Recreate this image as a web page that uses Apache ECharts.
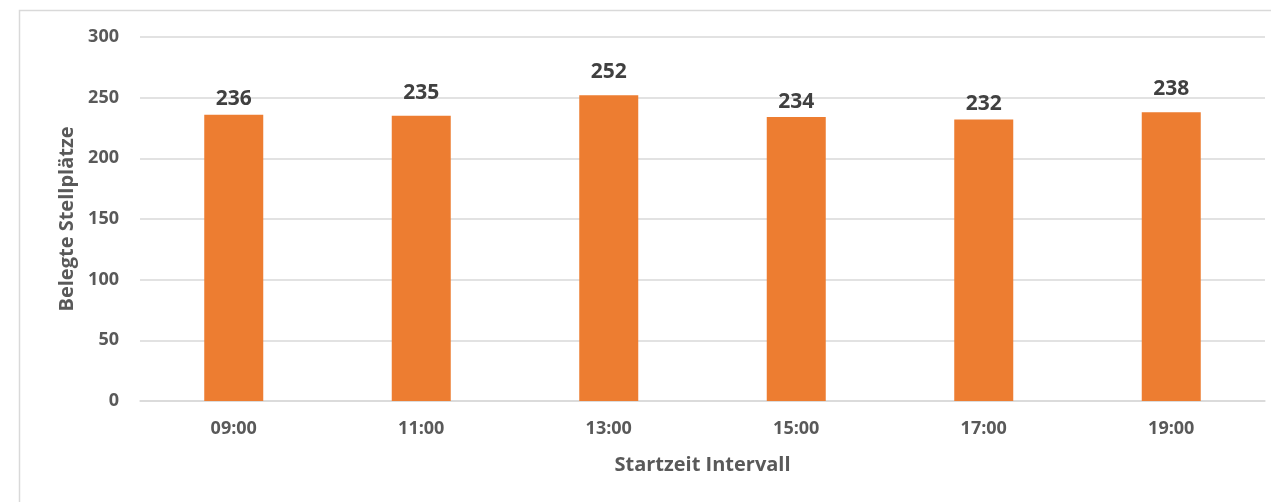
<!DOCTYPE html>
<html>
<head>
<meta charset="utf-8">
<script src="https://cdn.jsdelivr.net/npm/echarts@6/dist/echarts.min.js"></script>
<style>
  html, body { margin: 0; padding: 0; background: #fff; }
  #chart { width: 1271px; height: 502px; }
</style>
</head>
<body>
<div id="chart"></div>
<script>
// Occupied parking spaces per interval start time
const categories = ['09:00', '11:00', '13:00', '15:00', '17:00', '19:00'];
const occupied = [236, 235, 252, 234, 232, 238];
const yTicks = [0, 50, 100, 150, 200, 250, 300];

// extra upward nudge (px) for some value labels
const labelLift = [0, 7.5, 7.5, 0, 0, 7.5];

const chart = echarts.init(document.getElementById('chart'));
const font = '"Open Sans", "Noto Sans", sans-serif';

chart.setOption({
  backgroundColor: '#ffffff',
  animation: false,
  graphic: [{
    type: 'rect',
    silent: true,
    shape: { x: 19.5, y: 10.5, width: 1300, height: 600 },
    style: { fill: 'none', stroke: '#d9d9d9', lineWidth: 1.5 }
  }],
  grid: { left: 140, right: 6, top: 37, bottom: 101, containLabel: false },
  xAxis: {
    type: 'category',
    data: categories,
    name: 'Startzeit Intervall',
    nameLocation: 'middle',
    nameGap: 54,
    nameTextStyle: { color: '#595959', fontSize: 20, fontWeight: 'bold', fontFamily: font },
    axisLine: { lineStyle: { color: '#d9d9d9', width: 1.5 } },
    axisTick: { show: false },
    axisLabel: { color: '#595959', fontSize: 18, fontWeight: 'bold', fontFamily: font, margin: 19 }
  },
  yAxis: {
    type: 'value',
    min: yTicks[0],
    max: yTicks[yTicks.length - 1],
    interval: yTicks[1] - yTicks[0],
    name: 'Belegte Stellplätze',
    nameLocation: 'middle',
    nameGap: 62,
    nameTextStyle: { color: '#595959', fontSize: 20, fontWeight: 'bold', fontFamily: font },
    axisLine: { show: false },
    axisTick: { show: false },
    axisLabel: { color: '#595959', fontSize: 18, fontWeight: 'bold', fontFamily: font, margin: 21 },
    splitLine: { lineStyle: { color: '#d9d9d9', width: 1.5 } }
  },
  series: [{
    type: 'bar',
    data: occupied.map((v, i) => ({
      value: v,
      label: { offset: [0, -labelLift[i]] }
    })),
    barWidth: 59,
    itemStyle: { color: '#ED7D31' },
    label: {
      show: true,
      position: 'top',
      distance: 5,
      color: '#404040',
      fontSize: 21,
      fontWeight: 'bold',
      fontFamily: font
    }
  }]
});
</script>
</body>
</html>
